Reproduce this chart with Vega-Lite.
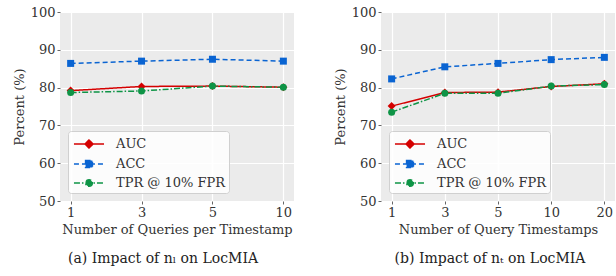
{
  "$schema": "https://vega.github.io/schema/vega-lite/v6.json",
  "padding": {"left": 13, "top": 6, "right": 0, "bottom": 0},
  "background": "white",
  "datasets": {
    "a": [
      {"q": "1", "metric": "AUC", "v": 79.2},
      {"q": "3", "metric": "AUC", "v": 80.3},
      {"q": "5", "metric": "AUC", "v": 80.4},
      {"q": "10", "metric": "AUC", "v": 80.1},
      {"q": "1", "metric": "ACC", "v": 86.4},
      {"q": "3", "metric": "ACC", "v": 87.0},
      {"q": "5", "metric": "ACC", "v": 87.5},
      {"q": "10", "metric": "ACC", "v": 87.0},
      {"q": "1", "metric": "TPR @ 10% FPR", "v": 78.7},
      {"q": "3", "metric": "TPR @ 10% FPR", "v": 79.1},
      {"q": "5", "metric": "TPR @ 10% FPR", "v": 80.4},
      {"q": "10", "metric": "TPR @ 10% FPR", "v": 80.1}
    ],
    "b": [
      {"q": "1", "metric": "AUC", "v": 75.1},
      {"q": "3", "metric": "AUC", "v": 78.7},
      {"q": "5", "metric": "AUC", "v": 78.8},
      {"q": "10", "metric": "AUC", "v": 80.3},
      {"q": "20", "metric": "AUC", "v": 81.0},
      {"q": "1", "metric": "ACC", "v": 82.3},
      {"q": "3", "metric": "ACC", "v": 85.5},
      {"q": "5", "metric": "ACC", "v": 86.4},
      {"q": "10", "metric": "ACC", "v": 87.4},
      {"q": "20", "metric": "ACC", "v": 88.0},
      {"q": "1", "metric": "TPR @ 10% FPR", "v": 73.5},
      {"q": "3", "metric": "TPR @ 10% FPR", "v": 78.5},
      {"q": "5", "metric": "TPR @ 10% FPR", "v": 78.5},
      {"q": "10", "metric": "TPR @ 10% FPR", "v": 80.4},
      {"q": "20", "metric": "TPR @ 10% FPR", "v": 80.8}
    ]
  },
  "spacing": 40,
  "hconcat": [
    {
      "width": 234,
      "height": 189,
      "data": {"name": "a"},
      "title": {"text": "(a) Impact of nₗ on LocMIA", "dx": -14},
      "encoding": {
        "x": {"field": "q", "type": "ordinal", "sort": ["1", "3", "5", "10"], "scale": {"type": "point", "padding": 0.15}, "axis": {"title": "Number of Queries per Timestamp", "labelAngle": 0}},
        "y": {"field": "v", "type": "quantitative", "scale": {"domain": [50, 100], "nice": false}, "axis": {"title": "Percent (%)", "values": [50, 60, 70, 80, 90, 100]}}
      },
      "layer": [
        {
          "transform": [{"filter": "datum.v < 0"}],
          "mark": {"type": "point", "filled": true, "strokeWidth": 1.5},
          "encoding": {
            "fill": {"field": "metric", "type": "nominal", "scale": {"domain": ["AUC", "ACC", "TPR @ 10% FPR"], "range": ["#d40000", "#0a64d2", "#0e9446"]}, "title": null},
            "stroke": {"field": "metric", "type": "nominal", "scale": {"domain": ["AUC", "ACC", "TPR @ 10% FPR"], "range": ["#d40000", "#0a64d2", "#0e9446"]}, "title": null},
            "shape": {"field": "metric", "type": "nominal", "scale": {"domain": ["AUC", "ACC", "TPR @ 10% FPR"], "range": ["M-1.67,0H1.67M0,-0.45L0.45,0L0,0.45L-0.45,0Z", "M-1.67,0H1.67M-0.38,-0.38H0.38V0.38H-0.38Z", "M-1.67,0H1.67M0.37,0A0.37,0.37,0,1,1,-0.37,0A0.37,0.37,0,1,1,0.37,0Z"]}, "title": null},
            "strokeDash": {"field": "metric", "type": "nominal", "scale": {"domain": ["AUC", "ACC", "TPR @ 10% FPR"], "range": [[1, 0], [5, 3], [6, 2, 1.5, 2]]}, "title": null}
          }
        },
        {
          "mark": {"type": "line", "strokeWidth": 1.5},
          "encoding": {
            "stroke": {"field": "metric", "type": "nominal", "title": null},
            "strokeDash": {"field": "metric", "type": "nominal", "title": null}
          }
        },
        {"transform": [{"filter": "datum.metric == 'AUC'"}], "mark": {"type": "point", "shape": "diamond", "filled": true, "opacity": 1, "size": 64, "color": "#d40000"}},
        {"transform": [{"filter": "datum.metric == 'ACC'"}], "mark": {"type": "point", "shape": "square", "filled": true, "opacity": 1, "size": 49, "color": "#0a64d2"}},
        {"transform": [{"filter": "datum.metric == 'TPR @ 10% FPR'"}], "mark": {"type": "point", "shape": "circle", "filled": true, "opacity": 1, "size": 49, "color": "#0e9446"}}
      ]
    },
    {
      "width": 234,
      "height": 189,
      "data": {"name": "b"},
      "title": {"text": "(b) Impact of nₜ on LocMIA", "dx": -8},
      "encoding": {
        "x": {"field": "q", "type": "ordinal", "sort": ["1", "3", "5", "10", "20"], "scale": {"type": "point", "padding": 0.2}, "axis": {"title": "Number of Query Timestamps", "labelAngle": 0}},
        "y": {"field": "v", "type": "quantitative", "scale": {"domain": [50, 100], "nice": false}, "axis": {"title": "Percent (%)", "values": [50, 60, 70, 80, 90, 100]}}
      },
      "layer": [
        {
          "transform": [{"filter": "datum.v < 0"}],
          "mark": {"type": "point", "filled": true, "strokeWidth": 1.5},
          "encoding": {
            "fill": {"field": "metric", "type": "nominal", "scale": {"domain": ["AUC", "ACC", "TPR @ 10% FPR"], "range": ["#d40000", "#0a64d2", "#0e9446"]}, "title": null},
            "stroke": {"field": "metric", "type": "nominal", "scale": {"domain": ["AUC", "ACC", "TPR @ 10% FPR"], "range": ["#d40000", "#0a64d2", "#0e9446"]}, "title": null},
            "shape": {"field": "metric", "type": "nominal", "scale": {"domain": ["AUC", "ACC", "TPR @ 10% FPR"], "range": ["M-1.67,0H1.67M0,-0.45L0.45,0L0,0.45L-0.45,0Z", "M-1.67,0H1.67M-0.38,-0.38H0.38V0.38H-0.38Z", "M-1.67,0H1.67M0.37,0A0.37,0.37,0,1,1,-0.37,0A0.37,0.37,0,1,1,0.37,0Z"]}, "title": null},
            "strokeDash": {"field": "metric", "type": "nominal", "scale": {"domain": ["AUC", "ACC", "TPR @ 10% FPR"], "range": [[1, 0], [5, 3], [6, 2, 1.5, 2]]}, "title": null}
          }
        },
        {
          "mark": {"type": "line", "strokeWidth": 1.5},
          "encoding": {
            "stroke": {"field": "metric", "type": "nominal", "title": null},
            "strokeDash": {"field": "metric", "type": "nominal", "title": null}
          }
        },
        {"transform": [{"filter": "datum.metric == 'AUC'"}], "mark": {"type": "point", "shape": "diamond", "filled": true, "opacity": 1, "size": 64, "color": "#d40000"}},
        {"transform": [{"filter": "datum.metric == 'ACC'"}], "mark": {"type": "point", "shape": "square", "filled": true, "opacity": 1, "size": 49, "color": "#0a64d2"}},
        {"transform": [{"filter": "datum.metric == 'TPR @ 10% FPR'"}], "mark": {"type": "point", "shape": "circle", "filled": true, "opacity": 1, "size": 49, "color": "#0e9446"}}
      ]
    }
  ],
  "resolve": {
    "scale": {"x": "independent", "y": "independent", "color": "independent", "fill": "independent", "stroke": "independent", "shape": "independent", "strokeDash": "independent"},
    "legend": {"color": "independent", "fill": "independent", "stroke": "independent", "shape": "independent", "strokeDash": "independent"}
  },
  "config": {
    "view": {"fill": "#EBEBEB", "stroke": null},
    "axis": {
      "domain": false,
      "grid": true,
      "gridColor": "#ffffff",
      "gridWidth": 1.2,
      "ticks": true,
      "tickSize": 3,
      "tickColor": "#666666",
      "labelPadding": 2,
      "labelFont": "DejaVu Serif",
      "labelFontSize": 13,
      "labelColor": "#333333",
      "titleFont": "DejaVu Serif",
      "titleFontSize": 13,
      "titleFontWeight": "normal",
      "titleColor": "#333333",
      "titlePadding": 4
    },
    "legend": {
      "orient": "bottom-left",
      "offset": 8,
      "fillColor": "rgba(255,255,255,0.85)",
      "strokeColor": "#d0d0d0",
      "cornerRadius": 3,
      "padding": 3,
      "symbolSize": 324,
      "symbolStrokeWidth": 1.5,
      "symbolOpacity": 1,
      "symbolOffset": 8,
      "labelOffset": 17,
      "rowPadding": 2,
      "labelFont": "DejaVu Serif",
      "labelFontSize": 13,
      "labelColor": "#333333"
    },
    "title": {
      "orient": "bottom",
      "anchor": "middle",
      "font": "DejaVu Serif",
      "fontSize": 14,
      "fontWeight": "normal",
      "color": "#222222",
      "offset": 16
    }
  }
}
